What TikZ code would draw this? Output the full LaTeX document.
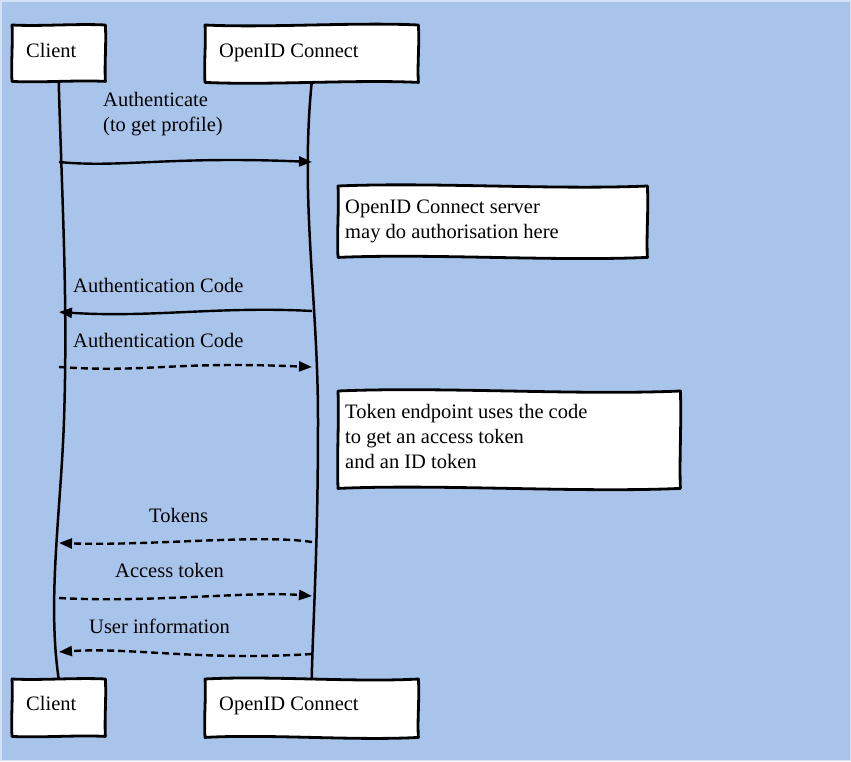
\documentclass[tikz,border=0pt]{standalone}
\usepackage{fontspec}
\setmainfont{Liberation Serif}
\usetikzlibrary{arrows.meta,calc}
\definecolor{bgblue}{HTML}{A9C4EB}
\definecolor{bgedge}{HTML}{D4E1F4}
\pgfdeclarelayer{back}
\pgfdeclarelayer{boxes}
\pgfsetlayers{back,boxes,main}
\tikzset{
  lbl/.style={font=\fontsize{20.5}{25}\selectfont, inner sep=0pt, anchor=base west, align=left},
  boxnode/.style={rectangle, inner sep=0pt, anchor=north west},
  sketch/.style={draw=black, fill=white, line width=2.8pt, line join=round},
  life/.style={draw=black, line width=2.5pt, line cap=round},
  msg/.style={draw=black, line width=2.4pt, -{Triangle[length=13pt,width=10pt]}},
  reply/.style={msg, dash pattern=on 7pt off 4pt},
}
\newcommand\sketchbox[3]{%
  \path[sketch] (#1.north west)
    .. controls ($(#1.north west)!0.3!(#1.north east)+(0,#2)$) and ($(#1.north west)!0.7!(#1.north east)+(0,-#2)$) .. (#1.north east)
    .. controls ($(#1.north east)!0.35!(#1.south east)+(#3,0)$) and ($(#1.north east)!0.7!(#1.south east)+(-#3,0)$) .. (#1.south east)
    .. controls ($(#1.south east)!0.3!(#1.south west)+(0,-#2)$) and ($(#1.south east)!0.7!(#1.south west)+(0,#2)$) .. (#1.south west)
    .. controls ($(#1.south west)!0.35!(#1.north west)+(-#3,0)$) and ($(#1.south west)!0.7!(#1.north west)+(#3,0)$) .. (#1.north west) -- cycle;}
\begin{document}
\begin{tikzpicture}[x=1pt,y=-1pt]
\useasboundingbox (0,0) rectangle (851,761);
\begin{pgfonlayer}{back}
  \path[fill=bgblue, draw=bgedge, line width=1.5pt] (0.75,0.75) rectangle (850.25,760.25);
\end{pgfonlayer}
% participant boxes
\node[boxnode, minimum width=93pt, minimum height=56pt] (ct) at (12,25) {};
\node[boxnode, minimum width=213pt, minimum height=57pt] (ot) at (205,25) {};
\node[boxnode, minimum width=93pt, minimum height=57pt] (cb) at (12,679) {};
\node[boxnode, minimum width=213pt, minimum height=58pt] (ob) at (205,679) {};
\node[lbl] (ctT) at (26,57) {Client};
\node[lbl] (otT) at (219,57) {OpenID Connect};
\node[lbl] (cbT) at (26,710) {Client};
\node[lbl] (obT) at (219,710) {OpenID Connect};
% notes
\node[boxnode, minimum width=309pt, minimum height=71pt] (n1) at (338,186) {};
\node[boxnode, minimum width=342pt, minimum height=97pt] (n2) at (338,391) {};
\node[lbl] (n1T) at (345,238.5) {OpenID Connect server\\may do authorisation here};
\node[lbl] (n2T) at (345,468) {Token endpoint uses the code\\to get an access token\\and an ID token};
\begin{pgfonlayer}{boxes}
  \sketchbox{ct}{1.5}{1}
  \sketchbox{ot}{3}{1.2}
  \sketchbox{cb}{1.5}{1}
  \sketchbox{ob}{-3.5}{1.2}
  \sketchbox{n1}{-4}{1.2}
  \sketchbox{n2}{-4.5}{1.2}
\end{pgfonlayer}
% lifelines
\draw[life] (ct.south) .. controls (62,200) and (68,300) .. (64,420) .. controls (61,510) and (47,600) .. (cb.north);
\draw[life] (ot.south) .. controls (300,200) and (318,300) .. (318,420) .. controls (318,550) and (313,620) .. (ob.north);
% message end points on the lifelines
\coordinate (c1) at (59,162);   \coordinate (o1) at (312,162);
\coordinate (c2) at (59,312);   \coordinate (o2) at (312,311);
\coordinate (c3) at (59,367);   \coordinate (o3) at (312,367);
\coordinate (c4) at (59,543);   \coordinate (o4) at (312,542);
\coordinate (c5) at (59,598);   \coordinate (o5) at (312,596);
\coordinate (c6) at (59,652);   \coordinate (o6) at (312,654);
% messages
\draw[msg] (c1) .. controls (120,168) and (170,156) .. (o1);
\node[lbl] (m1) at (103,131) {Authenticate\\(to get profile)};
\draw[msg] (o2) .. controls (220,306) and (150,318) .. (c2);
\node[lbl] (m2) at (73,292) {Authentication Code};
\draw[reply] (c3) .. controls (150,373) and (170,361) .. (o3);
\node[lbl] (m3) at (73,347) {Authentication Code};
\draw[reply] (o4) .. controls (260,534) and (150,546) .. (c4);
\node[lbl] (m4) at (149,522.5) {Tokens};
\draw[reply] (c5) .. controls (150,603) and (250,591) .. (o5);
\node[lbl] (m5) at (115,577) {Access token};
\draw[reply] (o6) .. controls (200,661) and (130,647) .. (c6);
\node[lbl] (m6) at (89,633) {User information};
\end{tikzpicture}
\end{document}
